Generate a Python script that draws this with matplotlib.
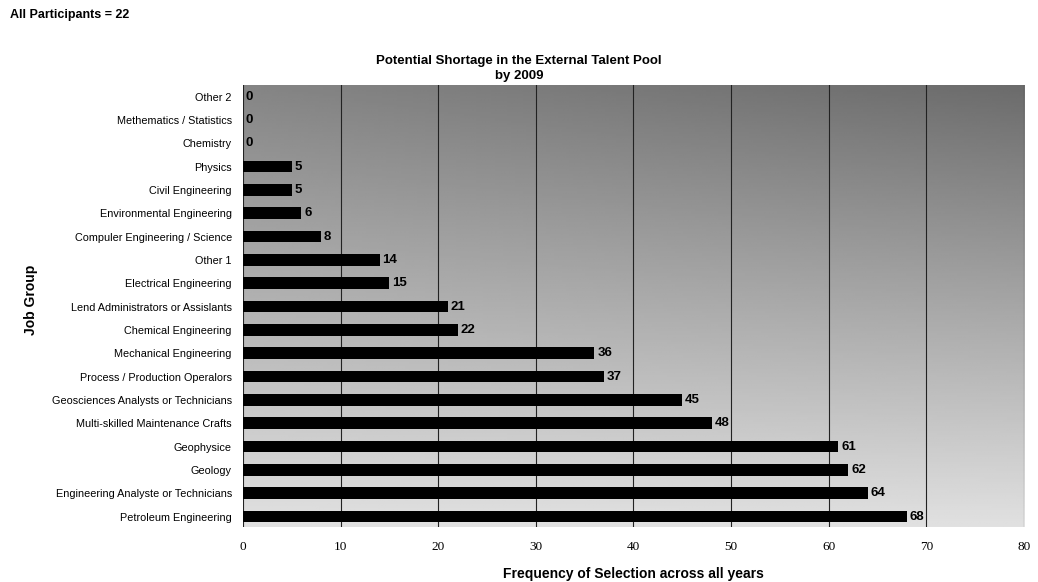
import matplotlib as mpl
mpl.use('Agg')
import matplotlib.pyplot as plt
import numpy as np

# categories from bottom to top
job_groups = ['Petroleum Engineering', 'Engineering Analyste or Technicians', 'Geology',
              'Geophysice', 'Multi-skilled Maintenance Crafts',
              'Geosciences Analysts or Technicians', 'Process / Production Operalors',
              'Mechanical Engineering', 'Chemical Engineering',
              'Lend Administrators or Assislants', 'Electrical Engineering', 'Other 1',
              'Compuler Engineering / Science', 'Environmental Engineering',
              'Civil Engineering', 'Physics', 'Chemistry', 'Methematics / Statistics',
              'Other 2']
frequency = [68, 64, 62, 61, 48, 45, 37, 36, 22, 21, 15, 14, 8, 6, 5, 5, 0, 0, 0]
x_ticks = [0, 10, 20, 30, 40, 50, 60, 70, 80]

plt.rcParams['font.family'] = ['Liberation Sans', 'DejaVu Sans']

fig = plt.figure(figsize=(10.38, 5.82), dpi=100)
ax = fig.add_axes([0.234, 0.0945, 0.7525, 0.7595])

# gray gradient background: dark at the top, light towards the bottom
gx, gy = np.meshgrid(np.linspace(0, 1, 200), np.linspace(0, 1, 200))
shade = 0.88 - 0.36 * gy - 0.1 * gx * gy
ax.imshow(shade, cmap='gray', vmin=0, vmax=1, origin='lower', aspect='auto',
          extent=[0, 80, -0.45, 18.5], zorder=0, interpolation='bilinear')

y = np.arange(len(job_groups))
ax.barh(y, frequency, height=0.5, color='black', zorder=3)
for yi, v in zip(y, frequency):
    ax.text(v + 0.3, yi, str(v), va='center', ha='left', fontsize=9.5,
            fontweight='bold', color='black', zorder=4)

ax.set_xlim(0, 80)
ax.set_ylim(-0.45, 18.5)
ax.set_yticks(y)
ax.set_yticklabels(job_groups, fontsize=7.8)
ax.set_xticks(x_ticks)
ax.set_xticklabels([str(t) for t in x_ticks], fontsize=9.5, family='Liberation Serif')
ax.tick_params(axis='y', length=0, pad=8)
ax.tick_params(axis='x', length=0, pad=10)
ax.grid(axis='x', color='#222222', linewidth=0.8, zorder=1)
ax.set_axisbelow(False)
for s in ax.spines.values():
    s.set_visible(False)

ax.set_xlabel('Frequency of Selection across all years', fontsize=10,
              fontweight='bold', labelpad=10)
fig.text(0.03, 0.485, 'Job Group', rotation=90, fontsize=10, fontweight='bold',
         ha='center', va='center')

fig.text(0.01, 0.975, 'All Participants = 22', fontsize=9, fontweight='bold',
         ha='left', va='center')
fig.text(0.5, 0.882, 'Potential Shortage in the External Talent Pool\nby 2009',
         fontsize=9.5, fontweight='bold', ha='center', va='center', linespacing=1.3)

fig.savefig('out.png', dpi=100)
